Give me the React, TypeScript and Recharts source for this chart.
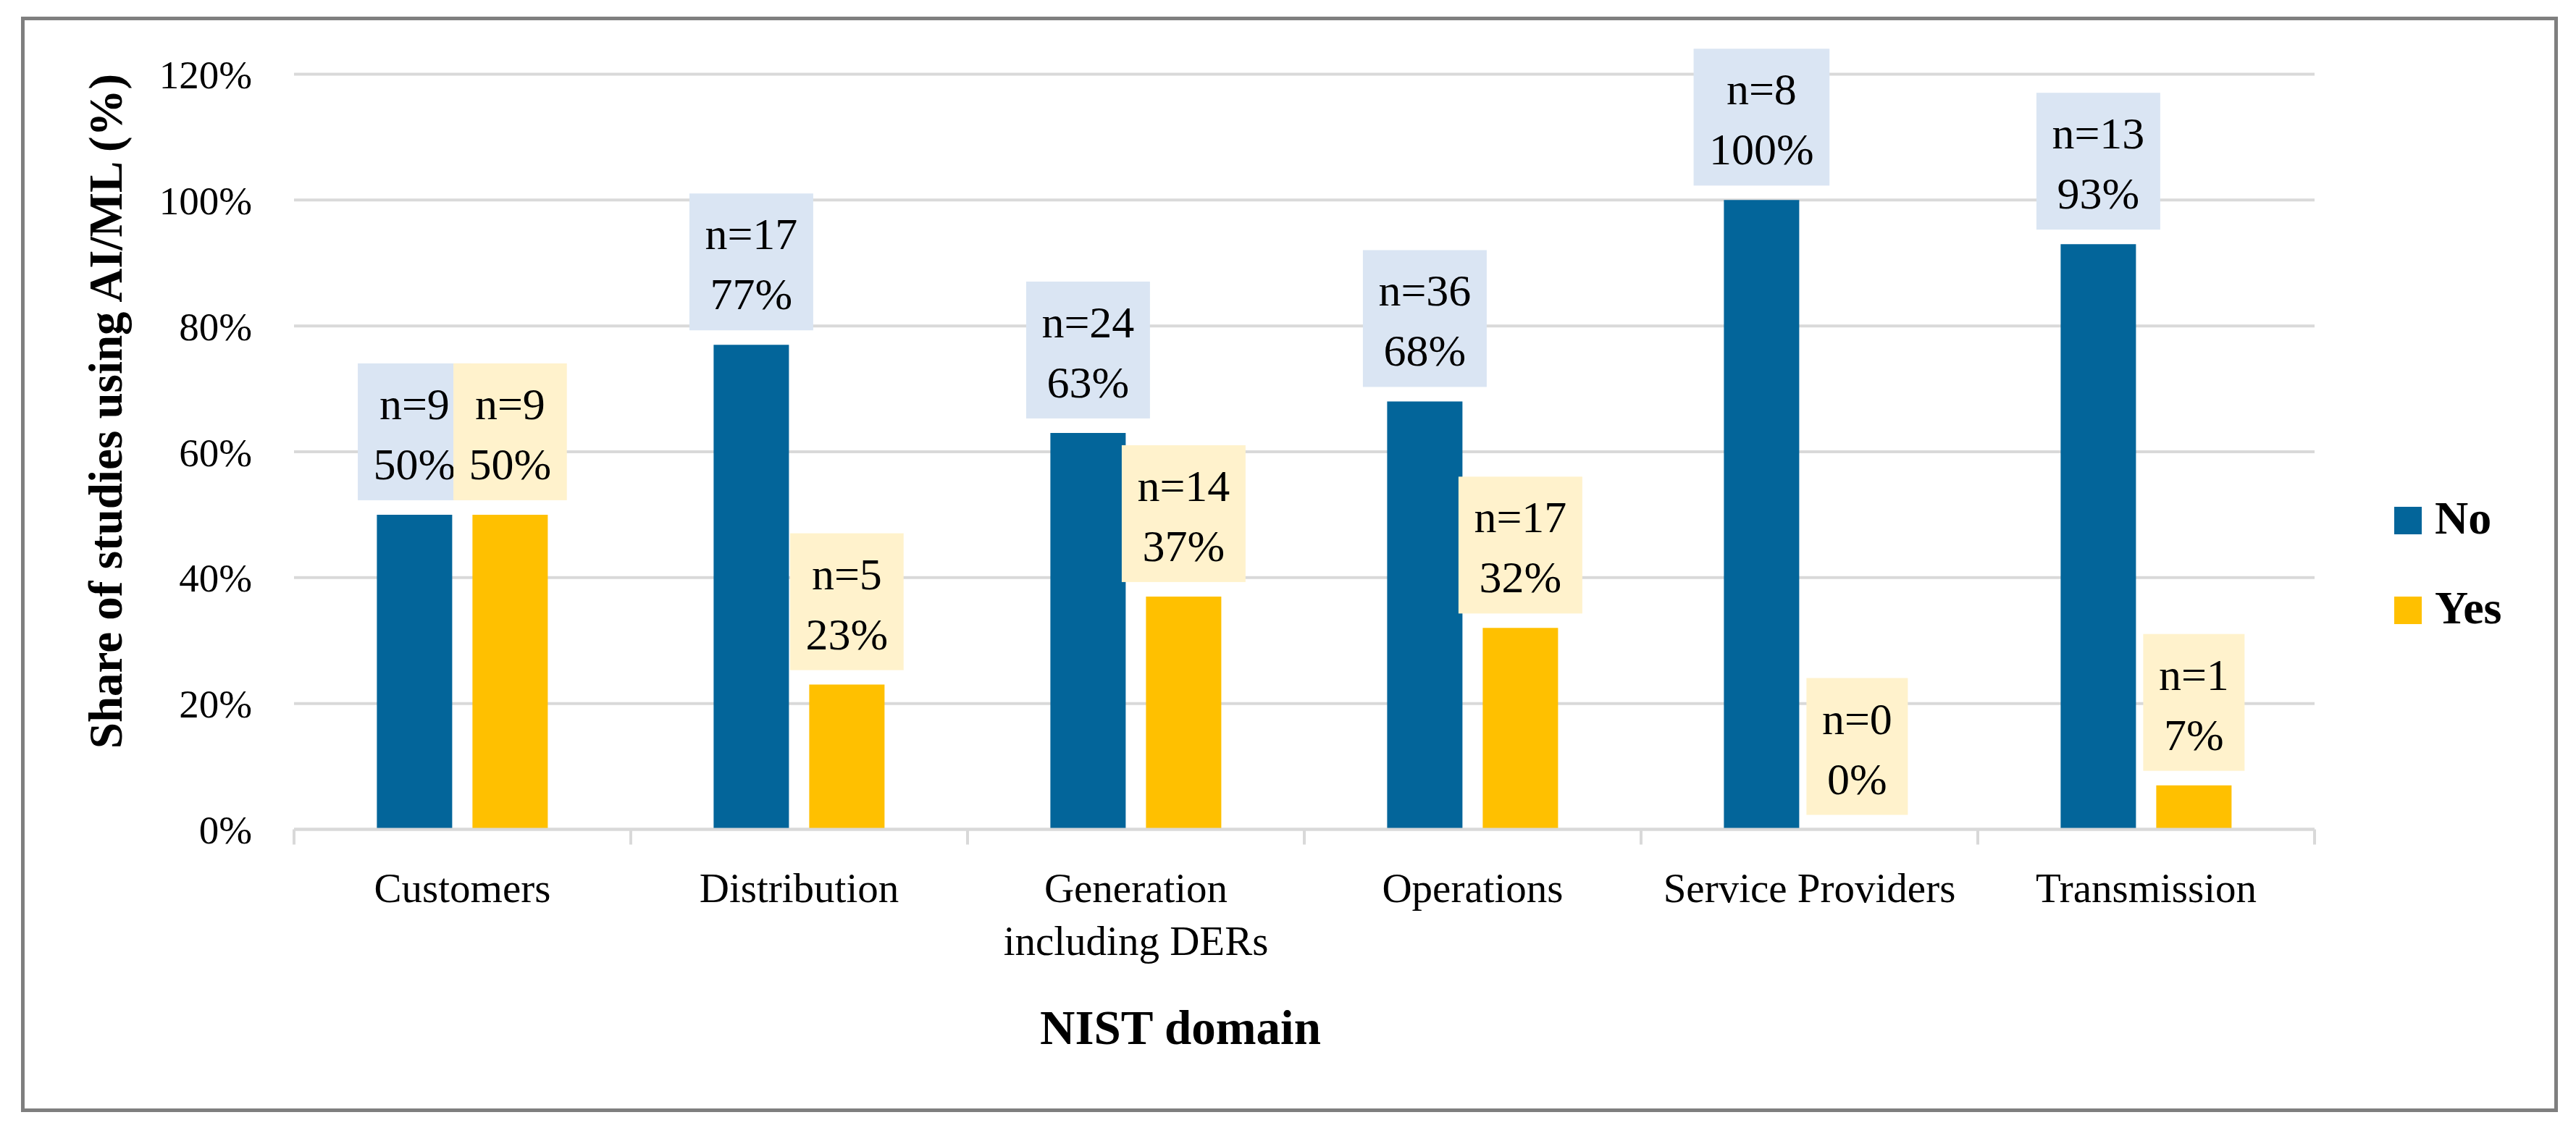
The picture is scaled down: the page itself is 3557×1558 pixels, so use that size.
import { BarChart, Bar, XAxis, YAxis, CartesianGrid, Legend, LabelList, Label } from "recharts";

// NIST domains and share of studies using AI/ML
const categories = [
  "Customers",
  "Distribution",
  "Generation including DERs",
  "Operations",
  "Service Providers",
  "Transmission",
];
const noShare = [50, 77, 63, 68, 100, 93];
const yesShare = [50, 23, 37, 32, 0, 7];
const noCount = [9, 17, 24, 36, 8, 13];
const yesCount = [9, 5, 14, 17, 0, 1];
const yTicks = [0, 20, 40, 60, 80, 100, 120];

const W = 3557;
const H = 1558;
const PLOT_LEFT = 406;
const PLOT_RIGHT = 3196;
const PLOT_TOP = 102.5;
const PLOT_BOTTOM = 1145.5;
const X_AXIS_H = 300;
const CAT_W = (PLOT_RIGHT - PLOT_LEFT) / categories.length;
const BAR_GAP = 28;

const FONT = '"Liberation Serif", "Times New Roman", serif';
const BLUE = "#03659A";
const YELLOW = "#FFC000";
const BLUE_BG = "#DAE5F3";
const YELLOW_BG = "#FFF2CC";
const GRID = "#D9D9D9";

const data = categories.map((name, i) => ({
  name,
  No: noShare[i],
  Yes: yesShare[i],
}));

let ctx: CanvasRenderingContext2D | null = null;
function textWidth(s: string, size: number, bold = false) {
  if (!ctx) ctx = document.createElement("canvas").getContext("2d");
  if (!ctx) return s.length * size * 0.5;
  ctx.font = `${bold ? "bold " : ""}${size}px "Liberation Serif"`;
  return ctx.measureText(s).width;
}

function wrap(text: string, maxW: number, size: number) {
  const words = text.split(" ");
  const lines: string[] = [];
  let cur = "";
  for (const w of words) {
    const next = cur ? cur + " " + w : w;
    if (cur && textWidth(next, size) > maxW) {
      lines.push(cur);
      cur = w;
    } else {
      cur = next;
    }
  }
  if (cur) lines.push(cur);
  return lines;
}

function CategoryTick(props: any) {
  const { x, y, payload, index } = props;
  const lines = wrap(String(payload.value), CAT_W - 40, 57);
  const left = x - CAT_W / 2;
  return (
    <g>
      <line x1={left} x2={left} y1={y} y2={y + 21} stroke={GRID} strokeWidth={4} />
      {index === categories.length - 1 && (
        <line x1={x + CAT_W / 2} x2={x + CAT_W / 2} y1={y} y2={y + 21} stroke={GRID} strokeWidth={4} />
      )}
      <text x={x} y={y + 100} textAnchor="middle" fontFamily={FONT} fontSize={57} fill="#000">
        {lines.map((l, i) => (
          <tspan key={i} x={x} dy={i === 0 ? 0 : 73}>
            {l}
          </tspan>
        ))}
      </text>
    </g>
  );
}

function DataBox({ cx, barTop, l1, l2, bg }: { cx: number; barTop: number; l1: string; l2: string; bg: string }) {
  const w = Math.max(textWidth(l1, 62), textWidth(l2, 62)) + 43;
  const top = barTop - 20 - 189;
  return (
    <g>
      <rect x={cx - w / 2} y={top} width={w} height={189} fill={bg} />
      <text x={cx} y={top + 77} textAnchor="middle" fontFamily={FONT} fontSize={62} fill="#000">
        {l1}
      </text>
      <text x={cx} y={top + 160} textAnchor="middle" fontFamily={FONT} fontSize={62} fill="#000">
        {l2}
      </text>
    </g>
  );
}

// the "Yes" bar of value 0 gets no label entry, so both labels of a
// category are drawn from the "No" bar, using its geometry for the scale
function PairLabel(props: any) {
  const vb = props.viewBox && props.viewBox.width !== undefined ? props.viewBox : props;
  const { x, y, width, height } = vb;
  const i = Math.floor((x + width / 2 - PLOT_LEFT) / CAT_W);
  if (i < 0 || i >= categories.length) return null;
  const bottom = y + height;
  const pxPerUnit = height / noShare[i];
  const yesTop = bottom - yesShare[i] * pxPerUnit;
  const cxNo = x + width / 2;
  const cxYes = cxNo + width + BAR_GAP;
  return (
    <g>
      <DataBox cx={cxNo} barTop={y} l1={`n=${noCount[i]}`} l2={`${noShare[i]}%`} bg={BLUE_BG} />
      <DataBox cx={cxYes} barTop={yesTop} l1={`n=${yesCount[i]}`} l2={`${yesShare[i]}%`} bg={YELLOW_BG} />
    </g>
  );
}

function LegendBox(props: any) {
  const items = props.payload || [];
  return (
    <svg width={200} height={230} style={{ display: "block", overflow: "visible" }}>
      {items.map((p: any, i: number) => (
        <g key={p.value} transform={`translate(0, ${30 + i * 124})`}>
          <rect x={0} y={0} width={38} height={38} fill={p.color} />
          <text x={56} y={37} fontFamily={FONT} fontWeight="bold" fontSize={64} fill="#000">
            {p.value}
          </text>
        </g>
      ))}
    </svg>
  );
}

export default function App() {
  return (
    <div style={{ position: "absolute", left: 0, top: 0, width: W, height: H, background: "#fff" }}>
      <div
        style={{
          position: "absolute",
          left: 29,
          top: 23,
          width: 3503,
          height: 1513,
          border: "5px solid #7F7F7F",
          boxSizing: "border-box",
        }}
      />
      <BarChart
        width={W}
        height={H}
        data={data}
        margin={{ top: PLOT_TOP, right: W - PLOT_RIGHT, bottom: H - PLOT_BOTTOM - X_AXIS_H, left: 0 }}
        barCategoryGap="24.6%"
        barGap={BAR_GAP}
        style={{ position: "absolute", left: 0, top: 0 }}
      >
        <CartesianGrid vertical={false} stroke={GRID} strokeWidth={4} />
        <XAxis
          dataKey="name"
          height={X_AXIS_H}
          interval={0}
          tickSize={0}
          tickMargin={0}
          tickLine={false}
          axisLine={{ stroke: GRID, strokeWidth: 4 }}
          tick={<CategoryTick />}
        >
          <Label
            content={() => (
              <text x={1630} y={1442} textAnchor="middle" fontFamily={FONT} fontWeight="bold" fontSize={67} fill="#000">
                NIST domain
              </text>
            )}
          />
        </XAxis>
        <YAxis
          width={PLOT_LEFT}
          domain={[0, 120]}
          ticks={yTicks}
          tickFormatter={(v) => `${v}%`}
          tickSize={0}
          tickMargin={58}
          tickLine={false}
          axisLine={false}
          tick={{ fontFamily: FONT, fontSize: 55, fill: "#000" }}
        >
          <Label
            content={() => (
              <text
                x={168}
                y={568}
                transform="rotate(-90, 168, 568)"
                textAnchor="middle"
                fontFamily={FONT}
                fontWeight="bold"
                fontSize={65}
                fill="#000"
              >
                Share of studies using AI/ML (%)
              </text>
            )}
          />
        </YAxis>
        <Legend
          layout="vertical"
          align="center"
          verticalAlign="middle"
          content={<LegendBox />}
          wrapperStyle={{ left: 3306, top: 670, width: 200, height: 230 }}
        />
        <Bar dataKey="No" name="No" fill={BLUE} isAnimationActive={false}>
          <LabelList dataKey="No" content={PairLabel} />
        </Bar>
        <Bar dataKey="Yes" name="Yes" fill={YELLOW} isAnimationActive={false} />
      </BarChart>
    </div>
  );
}
